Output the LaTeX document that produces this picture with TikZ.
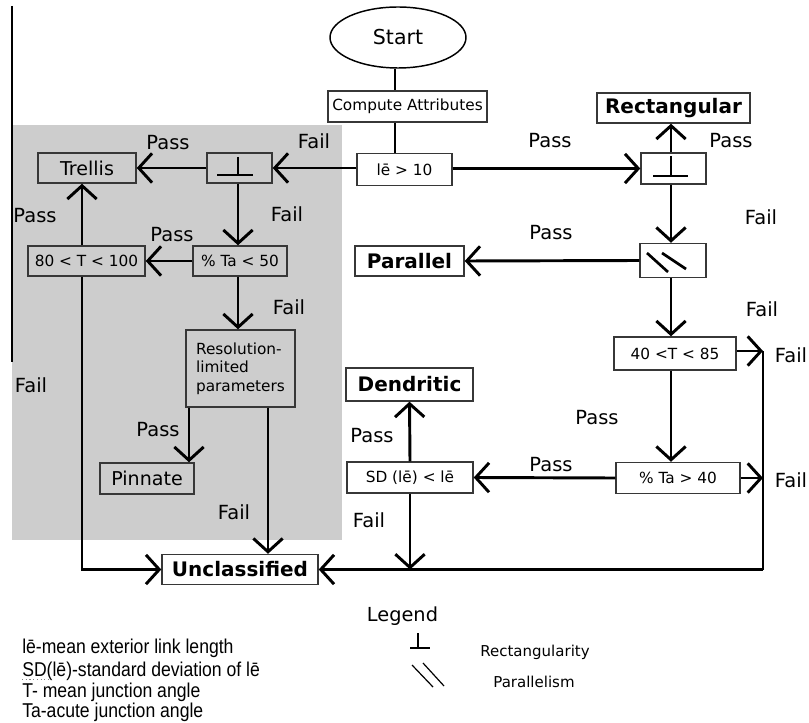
\documentclass[tikz,border=0pt]{standalone}
\usepackage{fontspec}
\setmainfont{DejaVu Sans}
\newfontfamily\legfont[FakeStretch=0.88]{Liberation Sans}
\usetikzlibrary{arrows.meta,shapes.geometric}
\definecolor{bggray}{RGB}{205,205,205}
\definecolor{bordergray}{RGB}{55,55,55}
\begin{document}
\begin{tikzpicture}[x=0.75pt,y=-0.75pt,
  box/.style={draw=bordergray, line width=1.1pt, fill=white, inner sep=0pt, font=\fontsize{11.5}{13.9}\selectfont, align=center},
  gbox/.style={box, fill=bggray},
  bbox/.style={box, font=\fontsize{15}{18}\bfseries\selectfont},
  lbl/.style={font=\fontsize{14.6}{17}\selectfont, inner sep=0pt},
  conn/.style={line width=2.2pt, -{Straight Barb[length=10pt,width=22pt]}},
  plain/.style={line width=2.2pt},
  sym/.style={line width=2pt},
  legsym/.style={line width=0.9pt},
  desc/.style={anchor=base west, inner sep=0pt, font=\legfont\fontsize{15}{17}\selectfont},
]
\useasboundingbox (0,0) rectangle (809,723);
% shaded region
\fill[bggray] (12,125) rectangle (342,540);
\draw[line width=0.8pt] (12,6) -- (12,362);

% column coordinates
\coordinate (sc) at (395,0);
\coordinate (lc) at (238,0);
\coordinate (tc) at (82,0);
\coordinate (rc) at (671,0);
\coordinate (pc) at (189,0);
\coordinate (fc) at (268,0);
\coordinate (rj) at (763,351);

% nodes
\node[draw, ellipse, line width=1.1pt, minimum width=136*0.75pt, minimum height=61*0.75pt, inner sep=0pt, font=\fontsize{15.4}{18}\selectfont] (start) at (398,37.5) {Start};
\node[box, minimum width=159*0.75pt, minimum height=31*0.75pt] (compute) at (407.5,106.5) {Compute Attributes};
\node[box, minimum width=95*0.75pt, minimum height=32*0.75pt] (le) at (404.5,169.5) {lē > 10};

\node[gbox, font=\fontsize{14.3}{17}\selectfont, minimum width=98*0.75pt, minimum height=30*0.75pt] (trellis) at (87,168) {Trellis};
\node[gbox, minimum width=65*0.75pt, minimum height=30*0.75pt] (rectL) at (239.5,168) {};
\node[gbox, minimum width=94*0.75pt, minimum height=30*0.75pt] (taL) at (240,261) {\% Ta < 50};
\node[gbox, minimum width=117*0.75pt, minimum height=30*0.75pt] (t80) at (86.5,261) {80 < T < 100};
\node[gbox, align=left, minimum width=109*0.75pt, minimum height=77*0.75pt] (res) at (240.5,368.5) {Resolution-\\limited\\parameters};
\node[gbox, font=\fontsize{14.3}{17}\selectfont, minimum width=94*0.75pt, minimum height=31*0.75pt] (pinnate) at (147,478.5) {Pinnate};
\node[bbox, minimum width=156*0.75pt, minimum height=30*0.75pt] (uncl) at (240,569.5) {Unclassified};

\node[box, minimum width=65*0.75pt, minimum height=31*0.75pt] (rectR) at (673.5,168.5) {};
\node[bbox, minimum width=153*0.75pt, minimum height=30*0.75pt] (rectangular) at (673.5,108) {Rectangular};
\node[box, minimum width=66*0.75pt, minimum height=34*0.75pt] (par) at (673,260.5) {};
\node[bbox, minimum width=109*0.75pt, minimum height=30*0.75pt] (parallel) at (409.5,261) {Parallel};
\node[box, minimum width=122*0.75pt, minimum height=33*0.75pt] (t40) at (675,353.5) {40 <T < 85};
\node[box, minimum width=124*0.75pt, minimum height=31*0.75pt] (ta40) at (678,478) {\% Ta > 40};
\node[box, minimum width=126*0.75pt, minimum height=31*0.75pt] (sd) at (410,477.5) {SD (lē) < lē};
\node[bbox, minimum width=127*0.75pt, minimum height=33*0.75pt] (dendritic) at (409.5,384.5) {Dendritic};

% symbols inside boxes
\draw[sym] (238,157) -- (238,175) (217,175) -- (253,175);
\draw[sym] (671,156) -- (671,176) (653,176) -- (688,176);
\draw[sym] (647,253) -- (668,272) (662,253) -- (686,269);

% connectors
\draw[plain] (sc |- start.south) -- (sc |- compute.north);
\draw[plain] (sc |- compute.south) -- (sc |- le.north);
\draw[conn] (le.west |- rectL.east) -- (rectL.east);
\draw[conn] (le.east |- rectR.west) -- (rectR.west);
\draw[conn] (rectL.west) -- (trellis.east);
\draw[conn] (lc |- rectL.south) -- (lc |- taL.north);
\draw[conn] (taL.west) -- (t80.east);
\draw[conn] (tc |- t80.north) -- (tc |- trellis.south);
\draw[conn] (tc |- t80.south) |- (uncl.west);
\draw[conn] (lc |- taL.south) -- (lc |- res.north);
\draw[conn] (pc |- res.south) -- (pc |- pinnate.north);
\draw[conn] (fc |- res.south) -- (fc |- uncl.north);

\draw[conn] (rc |- rectR.north) -- (rc |- rectangular.south);
\draw[conn] (rc |- rectR.south) -- (rc |- par.north);
\draw[conn] (par.west) -- (parallel.east);
\draw[conn] (rc |- par.south) -- (rc |- t40.north);
\draw[conn] (t40.east |- rj) -- (rj);
\draw[conn] (rc |- t40.south) -- (rc |- ta40.north);
\draw[conn] (ta40.east) -- (ta40.east -| rj);
\draw[conn] (ta40.west) -- (sd.east);
\draw[conn] (sd.north) -- (dendritic.south);
\draw[plain] (rj) -- (rj |- uncl.east);
\draw[conn] (rj |- uncl.east) -- (uncl.east);
\draw[conn] (sd.south) -- (sd.south |- uncl.east);

% labels
\node[lbl] (l1) at (168,143) {Pass};
\node[lbl] (l2) at (314,141) {Fail};
\node[lbl] (l3) at (287,214) {Fail};
\node[lbl] (l4) at (172,235) {Pass};
\node[lbl] (l5) at (35,216) {Pass};
\node[lbl] (l6) at (31,385) {Fail};
\node[lbl] (l7) at (289,307) {Fail};
\node[lbl] (l8) at (158,430) {Pass};
\node[lbl] (l9) at (234,512) {Fail};
\node[lbl] (r1) at (550,141) {Pass};
\node[lbl] (r2) at (731,141) {Pass};
\node[lbl] (r3) at (761,217) {Fail};
\node[lbl] (r4) at (551,233) {Pass};
\node[lbl] (r5) at (762,309) {Fail};
\node[lbl] (r6) at (791,355) {Fail};
\node[lbl] (r7) at (597,418) {Pass};
\node[lbl] (r8) at (791,480) {Fail};
\node[lbl] (r9) at (551,465) {Pass};
\node[lbl] (r10) at (372,436) {Pass};
\node[lbl] (r11) at (369,520) {Fail};

% legend
\node[font=\fontsize{14.5}{17}\selectfont, inner sep=0pt] (legend) at (402.5,616) {Legend};
\draw[legsym] (418,633) -- (418,648) (410,648) -- (430,648);
\draw[legsym] (412,665) -- (433,687) (423,663) -- (444,686);
\node[font=\fontsize{11.25}{13}\selectfont, inner sep=0pt] (lrect) at (535,652) {Rectangularity};
\node[font=\fontsize{11.25}{13}\selectfont, inner sep=0pt] (lpar) at (534,682) {Parallelism};

\node[desc] (d1) at (22,653) {lē-mean exterior link length};
\node[desc] (d2) at (22,676) {SD(lē)-standard deviation of lē};
\node[desc] (d3) at (22,697) {T- mean junction angle};
\node[desc] (d4) at (22,717.5) {Ta-acute junction angle};
\draw[gray, dotted, line width=0.8pt] (22,679.5) -- (51,679.5);
\end{tikzpicture}
\end{document}
